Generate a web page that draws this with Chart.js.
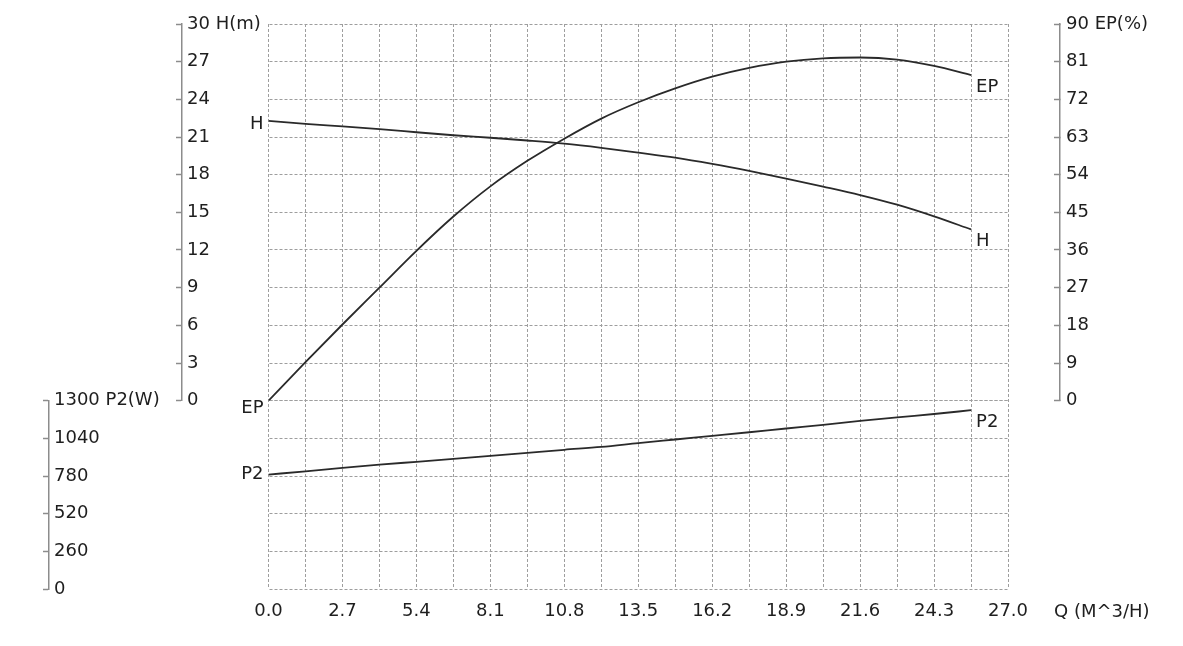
<!DOCTYPE html>
<html><head><meta charset="utf-8">
<script src="https://cdn.jsdelivr.net/npm/chart.js@4.4.1/dist/chart.umd.min.js"></script>
<style>html,body{margin:0;padding:0;background:#fff}#wrap{width:1183px;height:646px;position:relative}</style>
</head><body><div id="wrap"><canvas id="c"></canvas></div>
<script>
// ---- data ----
const flowQ   = [0, 1.35, 2.7, 4.05, 5.4, 6.75, 8.1, 9.45, 10.8, 12.15, 13.5, 14.85, 16.2, 17.55, 18.9, 20.25, 21.6, 22.95, 24.3, 25.65];
const headH   = [22.29, 22.05, 21.84, 21.62, 21.38, 21.14, 20.94, 20.72, 20.47, 20.14, 19.76, 19.36, 18.86, 18.30, 17.69, 17.05, 16.38, 15.61, 14.68, 13.64];
const effEP   = [0, 9.2, 18.2, 27.0, 35.8, 44.0, 51.2, 57.3, 62.6, 67.4, 71.3, 74.6, 77.4, 79.5, 81.0, 81.8, 82.0, 81.5, 80.0, 77.8];
const powerP2 = [790, 812, 836, 858, 878, 898, 919, 940, 961, 981, 1007, 1032, 1057, 1082, 1108, 1133, 1160, 1185, 1208, 1234];

const qTickLabels  = ['0.0','2.7','5.4','8.1','10.8','13.5','16.2','18.9','21.6','24.3','27.0'];
const hTickLabels  = ['0','3','6','9','12','15','18','21','24','27','30 H(m)'];
const epTickLabels = ['0','9','18','27','36','45','54','63','72','81','90 EP(%)'];
const p2TickLabels = ['0','260','520','780','1040','1300 P2(W)'];
const seriesNames  = ['H', 'EP', 'P2'];
const xAxisTitle   = 'Q (M^3/H)';

// ---- style ----
const TXT = '#1e1e1e';
const AXIS = '#8c8c8c';
const GRID = '#9e9e9e';
const CURVE = '#2a2a2a';
const FONT = {family: "'DejaVu Sans', sans-serif", size: 18};
Chart.defaults.font.family = FONT.family;
Chart.defaults.font.size = FONT.size;
Chart.defaults.color = TXT;

function blank(extra) {
  return Object.assign({type: 'linear', display: true, grid: {display: false}, border: {display: false}, ticks: {display: false}}, extra);
}
function yAxis(extra, labels, step, width) {
  return Object.assign({
    type: 'linear', min: 0, max: step * (labels.length - 1),
    ticks: {stepSize: step, autoSkip: false, mirror: true, padding: 5, color: TXT, font: FONT,
      callback: v => labels[Math.round(v / step)]},
    grid: {color: GRID, lineWidth: 1, drawTicks: true, tickLength: 6, tickColor: AXIS, tickWidth: 1.5},
    border: {display: true, color: AXIS, width: 1.5, dash: [3, 2]},
    afterFit: s => { s.width = width; }
  }, extra);
}

const curveLabels = {
  id: 'curveLabels',
  afterDatasetsDraw(chart) {
    const ctx = chart.ctx;
    const leftOff = [4, 8, 0];
    ctx.save();
    ctx.font = FONT.size + 'px ' + FONT.family;
    ctx.fillStyle = TXT;
    ctx.textBaseline = 'middle';
    chart.data.datasets.forEach((ds, di) => {
      const pts = chart.getDatasetMeta(di).data;
      const first = pts[0], last = pts[pts.length - 1];
      ctx.textAlign = 'right';
      ctx.fillText(ds.label, first.x - 5, first.y + leftOff[di]);
      ctx.textAlign = 'left';
      ctx.fillText(ds.label, last.x + 5, last.y + 12);
    });
    const xs = chart.scales.x;
    ctx.textAlign = 'left';
    ctx.fillText(xAxisTitle, xs.right + 46, xs.top + 23);
    ctx.restore();
  }
};

function series(vals) { return flowQ.map((q, i) => ({x: q, y: vals[i]})); }
const lineStyle = {borderColor: CURVE, borderWidth: 1.8, pointRadius: 0, fill: false, cubicInterpolationMode: 'monotone'};

new Chart(document.getElementById('c'), {
  type: 'line',
  data: {
    datasets: [
      Object.assign({label: seriesNames[0], data: series(headH), yAxisID: 'yH'}, lineStyle),
      Object.assign({label: seriesNames[1], data: series(effEP), yAxisID: 'yEP'}, lineStyle),
      Object.assign({label: seriesNames[2], data: series(powerP2), yAxisID: 'yP2'}, lineStyle)
    ]
  },
  options: {
    responsive: true, maintainAspectRatio: false, animation: false,
    layout: {padding: {left: 0, right: 0, top: 24, bottom: 0}},
    plugins: {legend: {display: false}, tooltip: {enabled: false}},
    scales: {
      x: {type: 'linear', position: 'bottom', min: 0, max: 27,
        ticks: {stepSize: 1.35, autoSkip: false, maxRotation: 0, padding: 12, color: TXT, font: FONT,
          callback: v => { const k = Math.round(v / 1.35); return k % 2 === 0 ? qTickLabels[k / 2] : ''; }},
        grid: {color: GRID, lineWidth: 1, drawTicks: false},
        border: {display: false, dash: [3, 2]},
        afterFit: s => { s.height = 57; }
      },
      yPf: blank({position: 'left', stack: 'colP', stackWeight: 2, weight: 6}),
      yP2: yAxis({position: 'left', stack: 'colP', stackWeight: 1, weight: 5}, p2TickLabels, 260, 49),
      yH:  yAxis({position: 'left', stack: 'colH', stackWeight: 2, weight: 4}, hTickLabels, 3, 133),
      yHf: blank({position: 'left', stack: 'colH', stackWeight: 1, weight: 3}),
      padL: blank({position: 'left', weight: 1, afterFit: s => { s.width = 86.5; }}),
      padR: blank({position: 'right', weight: 1, afterFit: s => { s.width = 52; }}),
      yEP: yAxis({position: 'right', stack: 'colE', stackWeight: 2, weight: 2,
        ticks: {stepSize: 9, autoSkip: false, padding: 12, color: TXT, font: FONT, callback: v => epTickLabels[Math.round(v / 9)]},
        grid: {drawOnChartArea: false, drawTicks: true, tickLength: -6, tickColor: AXIS, tickWidth: 1.5}}, epTickLabels, 9, 123),
      yEf: blank({position: 'right', stack: 'colE', stackWeight: 1, weight: 3})
    }
  },
  plugins: [curveLabels]
});
</script>
</body></html>
